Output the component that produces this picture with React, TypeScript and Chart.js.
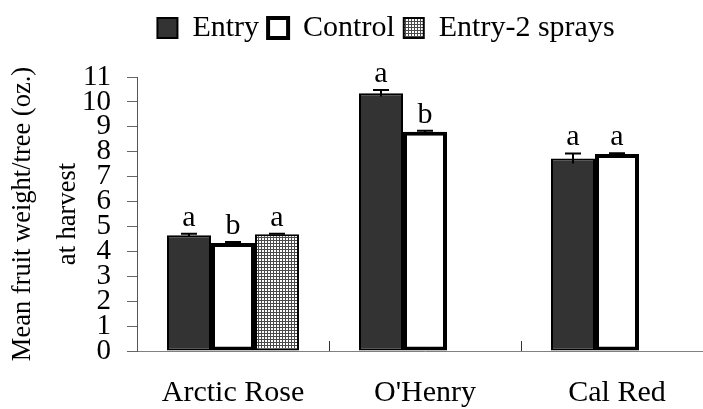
import React, { useEffect, useRef } from "react";
import { Chart, registerables } from "chart.js";

Chart.register(...registerables);

const categories = ["Arctic Rose", "O'Henry", "Cal Red"];
const seriesNames = ["Entry", "Control", "Entry-2 sprays"];
const entryValues = [4.65, 10.35, 7.73];
const controlValues = [4.34, 8.8, 7.91];
const spraysValues = [4.69, null, null];
const entryErrors = [0.06, 0.13, 0.2];
const controlErrors = [0.04, 0.04, 0.03];
const spraysErrors = [0.02, null, null];
const entryLetters = ["a", "a", "a"];
const controlLetters = ["b", "b", "a"];
const spraysLetters = ["a", "", ""];
const yMin = 0;
const yMax = 11;
const yStep = 1;
const yTitle = ["Mean fruit weight/tree (oz.)", "at harvest"];

const SERIF = '"Liberation Serif", "Times New Roman", serif';

function makePattern(): CanvasPattern | string {
  const c = document.createElement("canvas");
  c.width = 3;
  c.height = 3;
  const g = c.getContext("2d");
  if (!g) return "#999";
  g.fillStyle = "#ffffff";
  g.fillRect(0, 0, 3, 3);
  g.fillStyle = "#4a4a4a";
  g.fillRect(0, 0, 3, 1);
  g.fillRect(0, 0, 1, 3);
  const p = g.createPattern(c, "repeat");
  return p || "#999";
}

const errorsBySeries = [entryErrors, controlErrors, spraysErrors];
const lettersBySeries = [entryLetters, controlLetters, spraysLetters];

const errorLetterPlugin = {
  id: "errorLetters",
  afterDatasetsDraw(chart: any) {
    const ctx = chart.ctx;
    const ys = chart.scales.y;
    chart.data.datasets.forEach((ds: any, i: number) => {
      const meta = chart.getDatasetMeta(i);
      meta.data.forEach((bar: any, j: number) => {
        const v = ds.data[j];
        if (v == null) return;
        const e = errorsBySeries[i][j] ?? 0;
        const x = bar.x;
        const yt = ys.getPixelForValue(v + e);
        const yb = ys.getPixelForValue(v - e);
        ctx.save();
        ctx.strokeStyle = "#000";
        ctx.lineWidth = 2;
        ctx.beginPath();
        ctx.moveTo(x, yt);
        ctx.lineTo(x, yb);
        ctx.moveTo(x - 8, yt);
        ctx.lineTo(x + 8, yt);
        ctx.stroke();
        const letter = lettersBySeries[i][j];
        if (letter) {
          ctx.fillStyle = "#000";
          ctx.font = `30px ${SERIF}`;
          ctx.textAlign = "center";
          ctx.textBaseline = "alphabetic";
          ctx.fillText(letter, x, yt - 8);
        }
        ctx.restore();
      });
    });
  },
  afterDraw(chart: any) {
    const ctx = chart.ctx;
    const xs = chart.scales.x;
    const bottom = chart.chartArea.bottom;
    ctx.save();
    ctx.strokeStyle = "#333";
    ctx.lineWidth = 1;
    for (let i = 1; i < categories.length; i++) {
      const px = Math.round((xs.getPixelForTick(i - 1) + xs.getPixelForTick(i)) / 2) + 0.5;
      ctx.beginPath();
      ctx.moveTo(px, bottom - 10);
      ctx.lineTo(px, bottom);
      ctx.stroke();
    }
    ctx.restore();
  },
};

const LEGEND_CENTER_X = 386;
const LEGEND_TOP = 4;

const legendPlacePlugin = {
  id: "legendPlace",
  afterLayout(chart: any) {
    const lg = chart.legend;
    if (!lg) return;
    const w = lg.right - lg.left;
    const h = lg.bottom - lg.top;
    lg.left = LEGEND_CENTER_X - w / 2;
    lg.right = lg.left + w;
    lg.top = LEGEND_TOP;
    lg.bottom = LEGEND_TOP + h;
  },
};

export default function App() {
  const ref = useRef<HTMLCanvasElement | null>(null);
  useEffect(() => {
    if (!ref.current) return;
    const pattern = makePattern();
    const chart = new Chart(ref.current, {
      type: "bar",
      data: {
        labels: categories,
        datasets: [
          {
            label: seriesNames[0],
            data: entryValues,
            backgroundColor: "#333333",
            borderColor: "#000000",
            borderWidth: 2,
            borderSkipped: false,
          },
          {
            label: seriesNames[1],
            data: controlValues,
            backgroundColor: "#ffffff",
            borderColor: "#000000",
            borderWidth: 4,
            borderSkipped: false,
          },
          {
            label: seriesNames[2],
            data: spraysValues as any,
            backgroundColor: pattern as any,
            borderColor: "#000000",
            borderWidth: 2,
            borderSkipped: false,
          },
        ],
      },
      options: {
        responsive: false,
        animation: false,
        layout: { padding: 0 },
        datasets: {
          bar: { categoryPercentage: 0.6875, barPercentage: 1 },
        },
        plugins: {
          legend: {
            display: true,
            position: "top",
            labels: {
              boxWidth: 20,
              boxHeight: 20,
              padding: 9,
              color: "#000",
              font: { family: SERIF, size: 30 },
            },
          },
          tooltip: { enabled: false },
          title: { display: false },
        },
        scales: {
          x: {
            grid: { display: false },
            border: { display: true, color: "#808080", width: 1 },
            ticks: {
              color: "#000",
              padding: 16,
              font: { family: SERIF, size: 30 },
            },
            afterFit: (s: any) => {
              s.height = 58;
            },
          },
          y: {
            min: yMin,
            max: yMax,
            grid: {
              display: true,
              drawOnChartArea: false,
              drawTicks: true,
              tickLength: 10,
              color: "#666",
            },
            border: { display: true, color: "#555", width: 1 },
            ticks: {
              stepSize: yStep,
              autoSkip: false,
              color: "#000",
              padding: 16,
              font: { family: SERIF, size: 29 },
            },
            title: {
              display: true,
              text: yTitle,
              color: "#000",
              font: { family: SERIF, size: 26.5, lineHeight: 1.72 },
              padding: { top: 0, bottom: 0 },
            },
            afterFit: (s: any) => {
              s.width = 137;
              s.paddingTop = 77;
            },
          },
        },
      },
      plugins: [errorLetterPlugin, legendPlacePlugin],
    });
    return () => chart.destroy();
  }, []);
  return (
    <div
      style={{
        position: "fixed",
        left: 0,
        top: 0,
        width: 703,
        height: 409,
        overflow: "hidden",
        background: "#fff",
      }}
    >
      <canvas ref={ref} width={713} height={409} style={{ display: "block" }} />
    </div>
  );
}
